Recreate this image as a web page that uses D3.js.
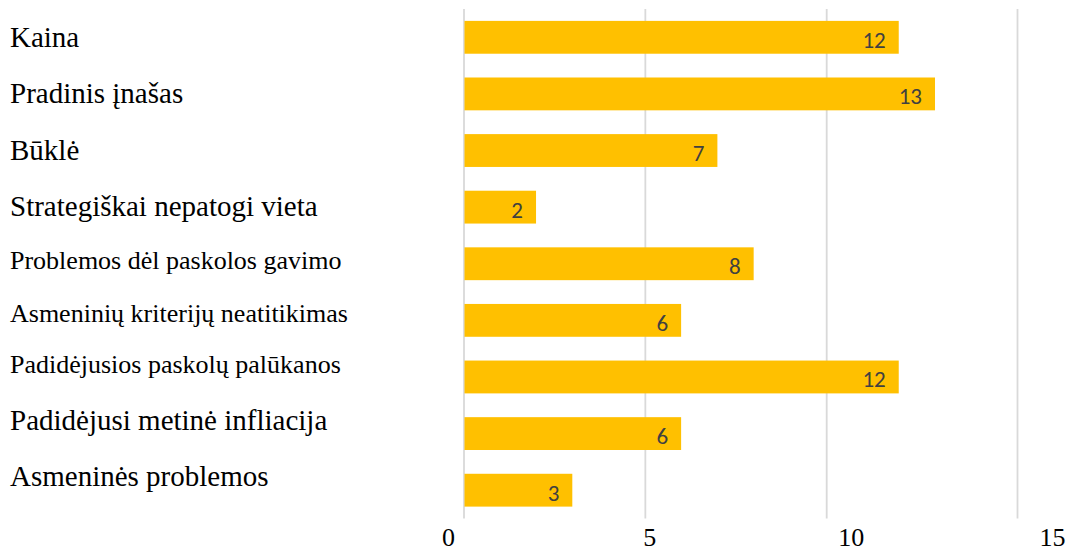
<!DOCTYPE html>
<html>
<head>
<meta charset="utf-8">
<script src="https://cdn.jsdelivr.net/npm/d3@7/dist/d3.min.js"></script>
<style>
  html, body { margin: 0; padding: 0; background: #ffffff; }
  svg { display: block; }
</style>
</head>
<body>
<svg id="chart" width="1076" height="553"></svg>
<script>
// ---- data ----
const categories = [
  "Kaina",
  "Pradinis įnašas",
  "Būklė",
  "Strategiškai nepatogi vieta",
  "Problemos dėl paskolos gavimo",
  "Asmeninių kriterijų neatitikimas",
  "Padidėjusios paskolų palūkanos",
  "Padidėjusi metinė infliacija",
  "Asmeninės problemos"
];
const values = [12, 13, 7, 2, 8, 6, 12, 6, 3];
const tickValues = [0, 5, 10, 15];

// ---- styles / layout ----
const smallLabels = new Set([
  "Problemos dėl paskolos gavimo",
  "Asmeninių kriterijų neatitikimas",
  "Padidėjusios paskolų palūkanos"
]);
const plotTop = 9, plotBottom = 518.5;
const x0 = 463.5, pxPerUnit = 36.27;

const svg = d3.select("#chart");

const x = d3.scaleLinear().domain([0, 15]).range([x0, x0 + 15 * pxPerUnit]);
const gridX = d3.scaleLinear().domain([0, 10, 15]).range([x(0), x(10), 1017]);
const tickX = d3.scaleLinear().domain([0, 15]).range([448, 1052]);
const y = d3.scaleBand().domain(categories).range([plotTop, plotBottom])
  .paddingInner(0.42).paddingOuter(0.21);
// category labels sit in their own (uneven) text rows
const labelRow = d3.scaleLinear().domain([0, 3, 5, 6, 8]).range([47, 216, 322, 373, 486]);

// gridlines
const grid = svg.append("g")
  .attr("transform", `translate(0,${plotBottom})`)
  .call(d3.axisBottom(gridX).tickValues(tickValues).tickSize(-(plotBottom - plotTop)).tickFormat(""));
grid.select(".domain").remove();
grid.selectAll(".tick line").attr("stroke", "#d9d9d9").attr("stroke-width", 1.8);

// bars
const data = categories.map((c, i) => ({ c, v: values[i] }));
svg.append("g").selectAll("rect").data(data).join("rect")
  .attr("x", x(0) + 1)
  .attr("y", d => y(d.c))
  .attr("width", d => x(d.v) - x(0) - 1)
  .attr("height", y.bandwidth())
  .attr("fill", "#FFC000");

// data labels
svg.append("g").selectAll("text").data(data).join("text")
  .attr("x", d => x(d.v) - 13)
  .attr("y", d => y(d.c) + y.bandwidth() / 2 + 10.5)
  .attr("text-anchor", "end")
  .attr("font-family", "Carlito, Calibri, Lato, sans-serif")
  .attr("font-size", 23)
  .attr("fill", "#404040")
  .text(d => d.v);

// category labels
svg.append("g").selectAll("text").data(categories).join("text")
  .attr("x", 10)
  .attr("y", (d, i) => labelRow(i))
  .attr("font-family", "'Liberation Serif', 'Times New Roman', serif")
  .attr("font-size", d => smallLabels.has(d) ? 26 : 29)
  .attr("fill", "#000000")
  .text(d => d);

// x tick labels
const ax = svg.append("g")
  .attr("transform", `translate(0,546)`)
  .call(d3.axisBottom(tickX).tickValues(tickValues).tickSize(0).tickPadding(0).tickFormat(d3.format("d")));
ax.select(".domain").remove();
ax.selectAll(".tick text")
  .attr("dy", 0)
  .attr("y", 0)
  .attr("font-family", "'Liberation Serif', 'Times New Roman', serif")
  .attr("font-size", 26)
  .attr("fill", "#000000");
</script>
</body>
</html>
